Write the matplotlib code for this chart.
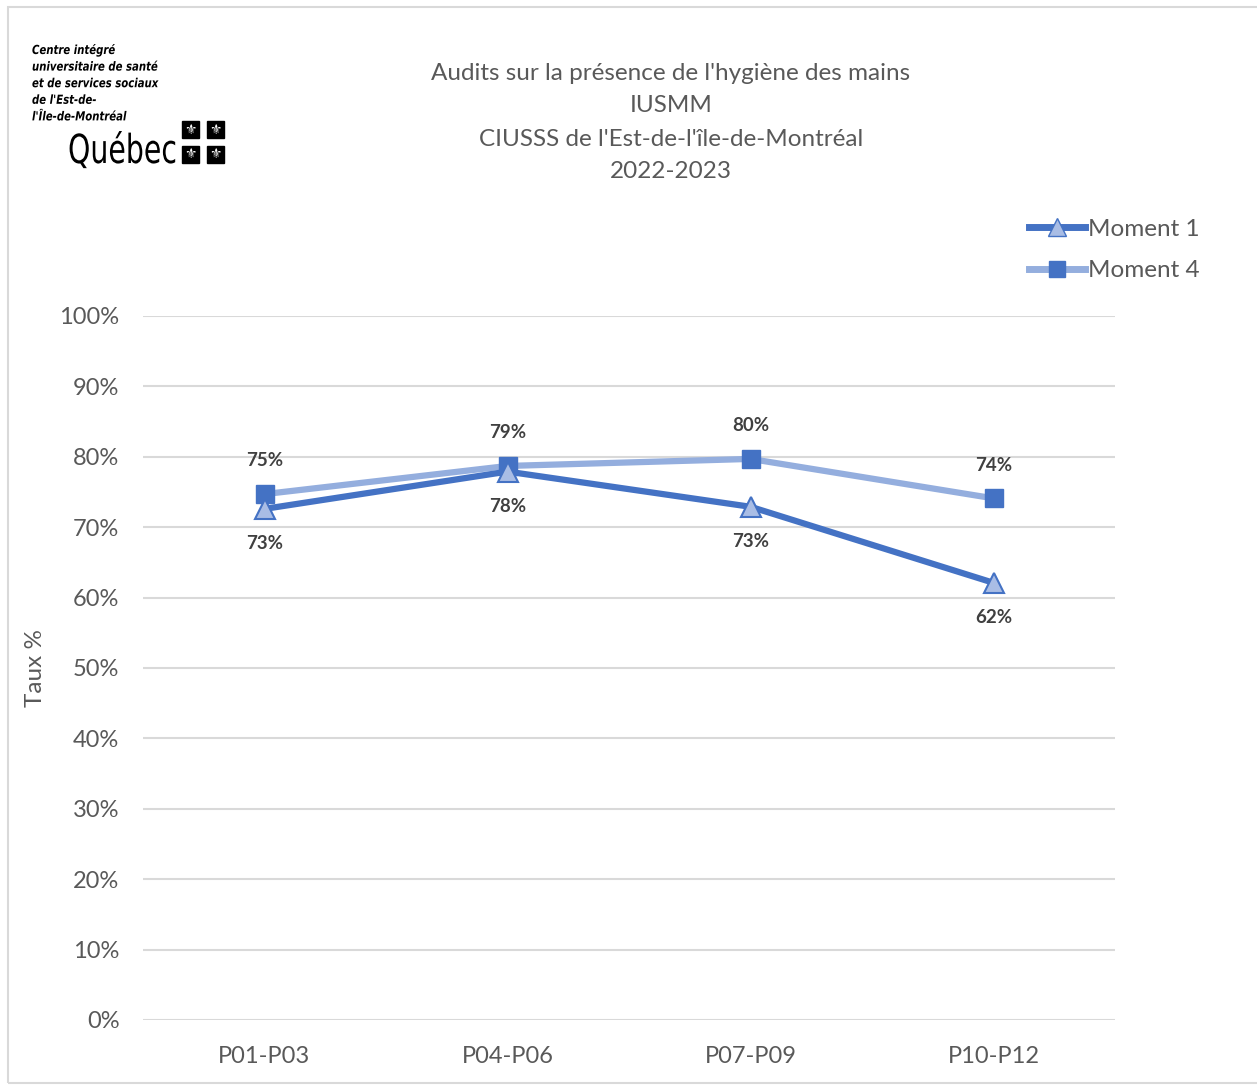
import matplotlib
matplotlib.use("Agg")
import matplotlib.pyplot as plt
from matplotlib.patches import Rectangle, PathPatch
from matplotlib.lines import Line2D
from matplotlib.textpath import TextPath
from matplotlib.font_manager import FontProperties
from matplotlib.transforms import Affine2D, IdentityTransform

categories = ["P01-P03", "P04-P06", "P07-P09", "P10-P12"]
moment1 = [72.6, 77.9, 72.9, 62.1]
moment4 = [74.7, 78.7, 79.7, 74.1]
yticks = [0, 10, 20, 30, 40, 50, 60, 70, 80, 90, 100]
title_lines = ["Audits sur la présence de l'hygiène des mains", "IUSMM",
               "CIUSSS de l'Est-de-l'île-de-Montréal", "2022-2023"]
logo_lines = ["Centre intégré", "universitaire de santé", "et de services sociaux",
              "de l'Est-de-", "l'Île-de-Montréal"]

plt.rcParams['font.family'] = ['Lato', 'DejaVu Sans']
W, H = 1257, 1085
fig = plt.figure(figsize=(W / 100, H / 100), dpi=100)

def fx(px):
    return px / W

def fy(py):
    return 1 - py / H

# outer border
fig.patches.append(Rectangle((fx(8), fy(1083)), 1.2, fy(7) - fy(1083), transform=fig.transFigure,
                             fill=False, edgecolor="#d9d9d9", linewidth=1.5))

ax = fig.add_axes([fx(143), fy(1020), fx(1115) - fx(143), fy(316) - fy(1020)])
x = list(range(len(categories)))
c1 = "#4472C4"
c1f = "#A9BDE5"
c4 = "#94AEDE"
c4f = "#4472C4"

ax.plot(x, moment4, color=c4, linewidth=4.5, marker="s", markersize=13,
        markerfacecolor=c4f, markeredgecolor=c4f, zorder=3, solid_capstyle="round")
ax.plot(x, moment1, color=c1, linewidth=4.5, marker="^", markersize=14,
        markerfacecolor=c1f, markeredgecolor=c1, markeredgewidth=1.5, zorder=4,
        solid_capstyle="round")

for xi, v in zip(x, moment4):
    ax.annotate(f"{round(v)}%", (xi, v), xytext=(0, 24), textcoords="offset points",
                ha="center", va="center", fontsize=13.5, color="#404040", fontweight="bold")
for xi, v in zip(x, moment1):
    ax.annotate(f"{round(v)}%", (xi, v), xytext=(0, -25), textcoords="offset points",
                ha="center", va="center", fontsize=13.5, color="#404040", fontweight="bold")

ax.set_xlim(-0.5, len(categories) - 0.5)
ax.set_ylim(0, 100)
ax.set_yticks(yticks)
ax.set_yticklabels([f"{t}%" for t in yticks])
ax.set_xticks(x)
ax.set_xticklabels(categories)
ax.tick_params(axis="both", length=0, labelsize=17, labelcolor="#595959")
ax.tick_params(axis="y", pad=17)
ax.tick_params(axis="x", pad=19)
ax.grid(axis="y", color="#d9d9d9", linewidth=1.5)
ax.set_axisbelow(True)
for s in ax.spines.values():
    s.set_visible(False)

fig.text(fx(36), fy(668), "Taux %", rotation=90, ha="center", va="center",
         fontsize=17.5, color="#595959")

for i, line in enumerate(title_lines):
    fig.text(fx(671), fy(73 + 33 * i), line, ha="center", va="center",
             fontsize=17.5, color="#595959")

handles = [Line2D([0], [0], color=c1, linewidth=5, marker="^", markersize=13,
                  markerfacecolor=c1f, markeredgecolor=c1),
           Line2D([0], [0], color=c4, linewidth=5, marker="s", markersize=12,
                  markerfacecolor=c4f, markeredgecolor=c4f)]
fig.legend(handles, ["Moment 1", "Moment 4"], loc="upper left",
           bbox_to_anchor=(fx(1007), fy(197)), frameon=False, fontsize=17.5,
           labelcolor="#595959", handlelength=2.3, handletextpad=0.15, labelspacing=0.84)

# logo (condensed text drawn as paths in pixel coordinates)
def cond_text(s, px, py_base, size_px, sx, prop):
    tp = TextPath((0, 0), s, size=size_px, prop=prop)
    tr = Affine2D().scale(sx, 1.0).translate(px, H - py_base) + IdentityTransform()
    fig.patches.append(PathPatch(tp, transform=tr, facecolor="black", edgecolor="none"))

bi = FontProperties(family="DejaVu Sans", weight="bold", style="italic")
for i, t in enumerate(logo_lines):
    cond_text(t, 32, 54 + 16.6 * i, 12.5, 0.81, bi)
reg = FontProperties(family="DejaVu Sans")
cond_text("Québec", 68, 163, 40, 0.71, reg)
for (px, py) in [(182, 121), (207, 121), (182, 146), (207, 146)]:
    fig.patches.append(Rectangle((fx(px), fy(py + 17)), fx(17), fy(0) - fy(17),
                                 transform=fig.transFigure, color="black"))
    fig.text(fx(px + 8.5), fy(py + 8.5), "⚜", ha="center", va="center", fontsize=10,
             color="white", family=["DejaVu Sans"])

fig.savefig("out.png", dpi=100)
